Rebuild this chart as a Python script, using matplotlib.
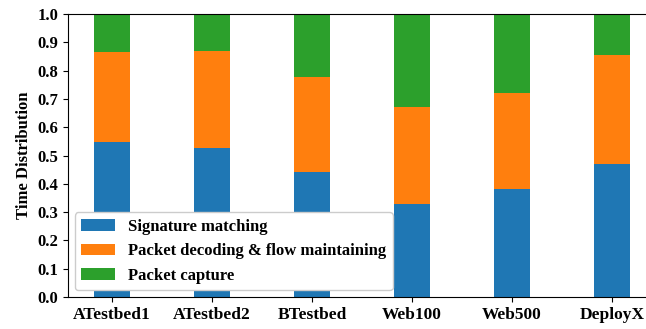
import numpy as np
import matplotlib.pyplot as plt

plt.rcParams['font.family'] = 'Liberation Serif'
plt.rcParams['font.weight'] = 'bold'

datasets = ['ATestbed1', 'ATestbed2', 'BTestbed', 'Web100', 'Web500', 'DeployX']
sig_match = [0.548, 0.527, 0.442, 0.329, 0.382, 0.470]
decoding = [0.318, 0.342, 0.335, 0.342, 0.339, 0.385]
capture = [1 - s - d for s, d in zip(sig_match, decoding)]

x = np.arange(len(datasets))
w = 0.36

fig = plt.figure(figsize=(6.46, 3.29), dpi=100)
ax = fig.add_axes([68/646, 32/329, 588/646, 283/329])

ax.bar(x, sig_match, w, color='#1f77b4', label='Signature matching')
ax.bar(x, decoding, w, bottom=sig_match, color='#ff7f0e', label='Packet decoding & flow maintaining')
bot = [s + d for s, d in zip(sig_match, decoding)]
ax.bar(x, capture, w, bottom=bot, color='#2ca02c', label='Packet capture')

ax.set_xlim(-0.44, 5.44)
ax.set_ylim(0, 1.0)
ax.set_yticks(np.arange(0, 1.01, 0.1))
ax.set_xticks(x)
ax.set_xticklabels(datasets, fontsize=12.5, fontweight='bold')
ax.tick_params(axis='y', labelsize=12)
ax.set_ylabel('Time Distribution', fontsize=12, fontweight='bold')
ax.legend(loc='lower left', fontsize=12, borderaxespad=0.4, framealpha=1)

fig.savefig('out.png', dpi=100)
